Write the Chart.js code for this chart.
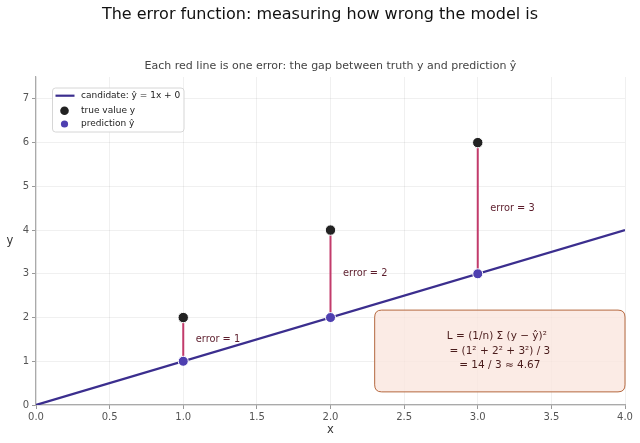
<!DOCTYPE html>
<html><head><meta charset="utf-8">
<script src="https://cdn.jsdelivr.net/npm/chart.js@4"></script>
<style>html,body{margin:0;padding:0;background:#fff}#wrap{width:640px;height:443px}</style>
</head><body><div id="wrap"><canvas id="c" width="640" height="443"></canvas></div>
<script>
const xs = [1, 2, 3];
const trueY = [2, 4, 6];
const predY = [1, 2, 3];
const lineX = [0, 4];
const lineY = [0, 4];
const errors = [1, 2, 3];
const xTicks = [0, 0.5, 1, 1.5, 2, 2.5, 3, 3.5, 4];
const yTicks = [0, 1, 2, 3, 4, 5, 6, 7];
const titleText = 'The error function: measuring how wrong the model is';
const subtitleText = 'Each red line is one error: the gap between truth y and prediction ŷ';
const xLabel = 'x';
const yLabel = 'y';
const legendLabels = ['candidate: ŷ = 1x + 0', 'true value y', 'prediction ŷ'];
const boxLines = ['L = (1/n) Σ (y − ŷ)²', '= (1² + 2² + 3²) / 3', '= 14 / 3 ≈ 4.67'];
const boxRange = {x0: 2.3, x1: 4.0, y0: 0.3, y1: 2.17};

const FONT = '"DejaVu Sans", sans-serif';
const LINE_C = '#3b2e8e';
const ERR_C = '#c23b6b';
const TRUE_C = '#222222';
const PRED_C = '#4e3fb0';

const datasets = [];
datasets.push({type:'line', label: legendLabels[0], data: lineX.map((x,i)=>({x, y: lineY[i]})),
  borderColor: LINE_C, borderWidth: 2.2, pointRadius: 0, fill:false, order: 3});
xs.forEach((x,i)=>{
  datasets.push({type:'line', label:'err'+i, data:[{x, y: predY[i]},{x, y: trueY[i]}],
    borderColor: ERR_C, borderWidth: 2, pointRadius: 0, fill:false, order: 2});
});
datasets.push({type:'scatter', label: legendLabels[1], data: xs.map((x,i)=>({x, y: trueY[i]})),
  backgroundColor: TRUE_C, borderColor:'#ffffff', borderWidth:1, pointRadius:5.2, order:1});
datasets.push({type:'scatter', label: legendLabels[2], data: xs.map((x,i)=>({x, y: predY[i]})),
  backgroundColor: PRED_C, borderColor:'#ffffff', borderWidth:1, pointRadius:5, order:0});

function roundRect(ctx, x, y, w, h, r){
  ctx.beginPath();
  ctx.moveTo(x+r, y); ctx.lineTo(x+w-r, y); ctx.quadraticCurveTo(x+w, y, x+w, y+r);
  ctx.lineTo(x+w, y+h-r); ctx.quadraticCurveTo(x+w, y+h, x+w-r, y+h);
  ctx.lineTo(x+r, y+h); ctx.quadraticCurveTo(x, y+h, x, y+h-r);
  ctx.lineTo(x, y+r); ctx.quadraticCurveTo(x, y, x+r, y); ctx.closePath();
}

const overlay = {
  id:'overlay',
  beforeDatasetsDraw(chart){
    const {ctx, scales:{x, y}} = chart;
    const bx0 = x.getPixelForValue(boxRange.x0), bx1 = x.getPixelForValue(boxRange.x1);
    const by1 = y.getPixelForValue(boxRange.y1), by0 = y.getPixelForValue(boxRange.y0);
    ctx.save();
    roundRect(ctx, bx0, by1, bx1-bx0, by0-by1, 7);
    ctx.fillStyle = 'rgba(250,228,220,0.75)'; ctx.fill();
    ctx.strokeStyle = '#b5683f'; ctx.lineWidth = 1; ctx.stroke();
    ctx.restore();
  },
  afterDraw(chart){
    const {ctx, chartArea:ca, scales:{x, y}} = chart;
    ctx.save();
    ctx.fillStyle = '#111'; ctx.textAlign='center'; ctx.textBaseline='middle';
    ctx.font = '16px ' + FONT;
    ctx.fillText(titleText, 320, 15);
    ctx.fillStyle = '#444'; ctx.font = '11px ' + FONT;
    ctx.fillText(subtitleText, (ca.left+ca.right)/2, 66);
    // axis labels
    ctx.fillStyle = '#333'; ctx.font = '11.5px ' + FONT;
    ctx.fillText(xLabel, (ca.left+ca.right)/2, 430);
    ctx.fillText(yLabel, 10, (ca.top+ca.bottom)/2);
    // error labels
    ctx.fillStyle = '#5c1d2c'; ctx.font = '9.8px ' + FONT; ctx.textAlign='left';
    xs.forEach((xv,i)=>{
      const mid = (trueY[i]+predY[i])/2;
      ctx.fillText('error = ' + errors[i], x.getPixelForValue(xv+0.085), y.getPixelForValue(mid));
    });
    // box text
    const bcx = (x.getPixelForValue(boxRange.x0) + x.getPixelForValue(boxRange.x1))/2;
    const bcy = (y.getPixelForValue(boxRange.y0)+y.getPixelForValue(boxRange.y1))/2;
    ctx.fillStyle = '#4a1c1c'; ctx.font = '10.5px ' + FONT; ctx.textAlign='center';
    [-14.5, 0.5, 14].forEach((dy,i)=>{
      const off = i===0 ? -3 : 0;
      ctx.fillText(boxLines[i], bcx + off, bcy + dy);
    });
    // legend
    const lx = ca.left + 16.5, ly = ca.top + 11, lw = 131.5, lh = 44;
    roundRect(ctx, lx, ly, lw, lh, 3);
    ctx.fillStyle = 'rgba(255,255,255,0.85)'; ctx.fill();
    ctx.strokeStyle = '#d6d6d6'; ctx.lineWidth = 1; ctx.stroke();
    ctx.font = '9px ' + FONT; ctx.textAlign='left';
    const rows = [ly+7.7, ly+22.7, ly+36];
    ctx.strokeStyle = LINE_C; ctx.lineWidth = 2.2;
    ctx.beginPath(); ctx.moveTo(lx+3, rows[0]); ctx.lineTo(lx+22, rows[0]); ctx.stroke();
    ctx.fillStyle = TRUE_C; ctx.beginPath(); ctx.arc(lx+12, rows[1], 4.3, 0, Math.PI*2); ctx.fill();
    ctx.fillStyle = PRED_C; ctx.beginPath(); ctx.arc(lx+12, rows[2], 3.6, 0, Math.PI*2); ctx.fill();
    ctx.fillStyle = '#222';
    legendLabels.forEach((t,i)=> ctx.fillText(t, lx+28.5, rows[i]));
    ctx.restore();
  }
};

new Chart(document.getElementById('c'), {
  type:'scatter',
  data:{datasets},
  options:{
    responsive:false, animation:false, devicePixelRatio:1,
    layout:{padding:{top:77, right:15, left:0, bottom:0}},
    plugins:{legend:{display:false}, tooltip:{enabled:false}, title:{display:false}},
    scales:{
      x:{type:'linear', min:0, max:4,
        afterBuildTicks(s){ s.ticks = xTicks.map(v=>({value:v})); },
        afterFit(s){ s.height = 38; },
        ticks:{font:{family:FONT, size:10}, color:'#555', padding:2, maxRotation:0,
          callback:(v)=>Number(v).toFixed(1)},
        grid:{color:'rgba(0,0,0,0.06)', tickColor:'#999', tickLength:4, drawTicks:true},
        border:{color:'#aaa', width:1.2},
        title:{display:false}
      },
      y:{type:'linear', min:0, max:7.5,
        afterBuildTicks(s){ s.ticks = yTicks.map(v=>({value:v})); },
        afterFit(s){ s.width = 36; },
        ticks:{font:{family:FONT, size:10}, color:'#555', padding:3},
        grid:{color:'rgba(0,0,0,0.06)', tickColor:'#999', tickLength:4},
        border:{color:'#aaa', width:1.2},
        title:{display:false}
      }
    }
  },
  plugins:[overlay]
});
</script></body></html>
